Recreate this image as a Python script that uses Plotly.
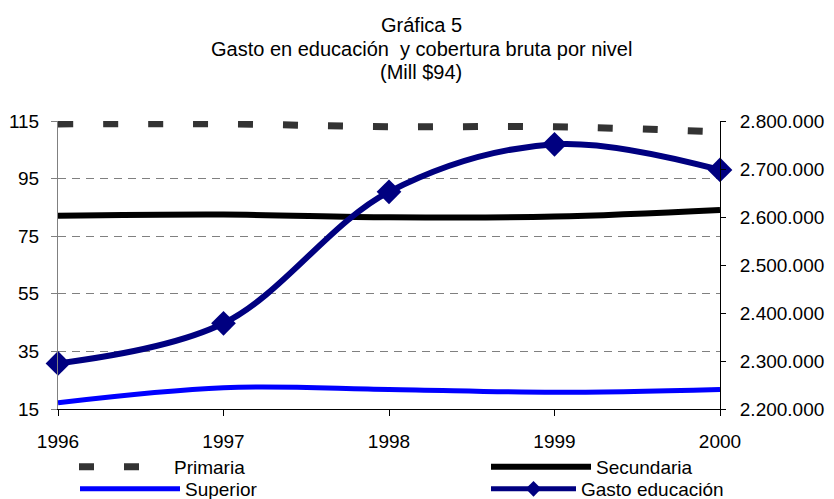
import plotly.graph_objects as go

years = [1996, 1997, 1998, 1999, 2000]
primaria = [114.0, 114.0, 113.0, 113.0, 111.2]
secundaria = [82.1, 82.5, 81.6, 81.8, 84.1]
superior = [17.2, 22.4, 21.8, 20.8, 21.8]
gasto = [2295000, 2378500, 2652500, 2751500, 2698000]

title_lines = ["Gráfica 5", "Gasto en educación  y cobertura bruta por nivel", "(Mill $94)"]
left_ticks = [15, 35, 55, 75, 95, 115]
right_ticks = [2200000, 2300000, 2400000, 2500000, 2600000, 2700000, 2800000]

FONT = "Liberation Sans, Arial, sans-serif"

fig = go.Figure()
fig.add_trace(go.Scatter(x=years, y=primaria, name="Primaria", mode="lines",
                         line=dict(color="#333333", width=7, dash="15px,30px", shape="spline"),
                         legend="legend", cliponaxis=False))
fig.add_trace(go.Scatter(x=years, y=secundaria, name="Secundaria", mode="lines",
                         line=dict(color="#000000", width=6, shape="spline"),
                         legend="legend2", cliponaxis=False))
fig.add_trace(go.Scatter(x=years, y=superior, name="Superior", mode="lines",
                         line=dict(color="#0000FF", width=5, shape="spline"),
                         legend="legend3", cliponaxis=False))
fig.add_trace(go.Scatter(x=years, y=gasto, name="Gasto educación", mode="lines+markers",
                         line=dict(color="#000080", width=6, shape="spline"),
                         marker=dict(symbol="diamond", size=19, color="#000080"),
                         yaxis="y2", legend="legend4", cliponaxis=False))

annotations = []
for txt, yc in zip(title_lines, [25, 49, 72]):
    annotations.append(dict(text=txt, xref="paper", yref="paper",
                            x=(421 - 58) / 662, y=1 + (121 - yc) / 288,
                            xanchor="center", yanchor="middle", showarrow=False,
                            font=dict(size=20, color="black", family=FONT)))


def leg(x_px, y_px, iw, sizing="trace"):
    return dict(x=x_px / 834, y=(499 - y_px) / 499, xref="container", yref="container",
                xanchor="left", yanchor="middle", orientation="v",
                bgcolor="rgba(0,0,0,0)", itemwidth=iw, itemsizing=sizing,
                font=dict(size=19, family=FONT), tracegroupgap=0)


fig.update_layout(
    width=834, height=499,
    margin=dict(l=58, r=114, t=121, b=90, autoexpand=False),
    plot_bgcolor="white", paper_bgcolor="white",
    font=dict(family=FONT, size=19, color="black"),
    separators=",.",
    showlegend=True,
    annotations=annotations,
    xaxis=dict(range=[1996, 2000], tickvals=years, ticktext=[str(y) for y in years],
               showline=True, linecolor="black", linewidth=1,
               ticks="outside", ticklen=6, tickcolor="black", tickangle=0,
               showgrid=False, zeroline=False, ticklabelstandoff=9),
    yaxis=dict(range=[15, 115], tickvals=left_ticks,
               showline=True, linecolor="#808080", linewidth=1,
               ticks="outside", ticklen=6, tickcolor="#808080",
               showgrid=True, gridcolor="#808080", griddash="8px,6px", gridwidth=1,
               zeroline=False, ticklabelstandoff=8),
    yaxis2=dict(range=[2200000, 2800000], tickvals=right_ticks, tickformat=",d",
                overlaying="y", side="right",
                showline=True, linecolor="black", linewidth=1,
                ticks="outside", ticklen=5, tickcolor="black",
                showgrid=False, zeroline=False, ticklabelstandoff=10),
    legend=leg(74, 467, 90),
    legend2=leg(486, 467, 100),
    legend3=leg(75, 489, 100),
    legend4=leg(486, 489, 85, "constant"),
)

fig.write_html("out.html", post_script="document.body.style.margin='0';",
               config={"displayModeBar": False})
